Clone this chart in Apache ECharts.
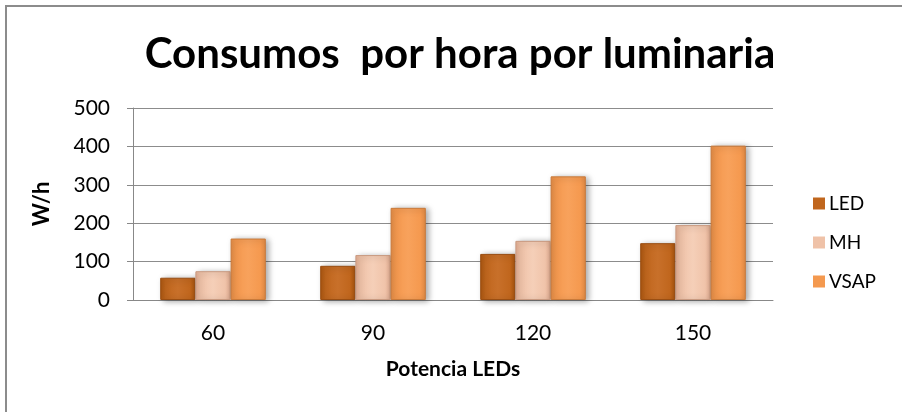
<!DOCTYPE html>
<html><head><meta charset="utf-8">
<script src="https://cdn.jsdelivr.net/npm/echarts@6/dist/echarts.min.js"></script>
<style>
html,body{margin:0;padding:0;background:#fff;}
#frame{position:absolute;left:5px;top:5px;width:920px;height:430px;border-left:2px solid #8c8c8c;border-top:2px solid #8c8c8c;}
#c{position:absolute;left:0;top:0;width:902px;height:412px;}
</style></head>
<body>
<div id="frame"></div>
<div id="c"></div>
<script>
const categories = ['60', '90', '120', '150'];
const ledValues = [58, 89, 120, 148];
const mhValues = [75, 117, 154, 195];
const vsapValues = [160, 240, 322, 402];
const yTicks = [0, 100, 200, 300, 400, 500];

const FONT = 'Lato, "Open Sans", sans-serif';
function grad(edge, mid, light) {
  return new echarts.graphic.LinearGradient(0, 0, 1, 0, [
    {offset: 0, color: edge}, {offset: 0.15, color: mid}, {offset: 0.5, color: light},
    {offset: 0.85, color: mid}, {offset: 1, color: edge}
  ]);
}
const seriesDefs = [
  {name: 'LED', data: ledValues, color: grad('#a9550f', '#c0661d', '#c8702a'), border: '#9a4e12', legend: '#c0661d'},
  {name: 'MH', data: mhValues, color: grad('#e0ab90', '#f0c3a9', '#f5cfb8'), border: '#c99a80', legend: '#efc2a8'},
  {name: 'VSAP', data: vsapValues, color: grad('#e08a45', '#f5994f', '#f8a25c'), border: '#c97a3a', legend: '#f4994f'}
];
const chart = echarts.init(document.getElementById('c'), null, {renderer: 'canvas'});
chart.setOption({
  backgroundColor: 'transparent',
  animation: false,
  title: {
    text: 'Consumos  por hora por luminaria', left: 455, top: 28, textAlign: 'center',
    textStyle: {fontFamily: FONT, fontWeight: 'bold', fontSize: 42, color: '#000'}
  },
  legend: {
    orient: 'vertical', left: 808, top: 189, itemGap: 20, itemWidth: 12, itemHeight: 12,
    icon: 'rect',
    textStyle: {fontFamily: FONT, fontSize: 19, color: '#000', padding: [0, 0, 0, -1]},
    data: seriesDefs.map(s => ({name: s.name, itemStyle: {color: s.legend, borderWidth: 0}}))
  },
  grid: {left: 133, right: 129, top: 108, bottom: 112},
  xAxis: {
    type: 'category', data: categories,
    name: 'Potencia LEDs', nameLocation: 'middle', nameGap: 59,
    nameTextStyle: {fontFamily: FONT, fontWeight: 'bold', fontSize: 21, color: '#000'},
    axisLine: {lineStyle: {color: '#888', width: 1}},
    axisTick: {show: false},
    axisLabel: {fontFamily: FONT, fontSize: 21, color: '#000', margin: 23}
  },
  yAxis: {
    type: 'value', min: 0, max: 500, interval: 100,
    name: 'W/h', nameLocation: 'middle', nameGap: 80, nameRotate: 90,
    nameTextStyle: {fontFamily: FONT, fontWeight: 'bold', fontSize: 22, color: '#000'},
    axisLine: {show: true, lineStyle: {color: '#888', width: 1}},
    axisTick: {show: true, length: 6, lineStyle: {color: '#888'}},
    axisLabel: {fontFamily: FONT, fontSize: 21, color: '#000', margin: 23,
      formatter: v => yTicks.includes(v) ? String(v) : ''},
    splitLine: {lineStyle: {color: '#8c8c8c', width: 1}}
  },
  series: seriesDefs.map(s => ({
    name: s.name, type: 'bar', data: s.data, barGap: '0%', barCategoryGap: '34%',
    itemStyle: {color: s.color, borderColor: s.border, borderWidth: 1,
      shadowColor: 'rgba(0,0,0,0.35)', shadowBlur: 6, shadowOffsetX: 3, shadowOffsetY: 1}
  }))
});
</script>
</body></html>
